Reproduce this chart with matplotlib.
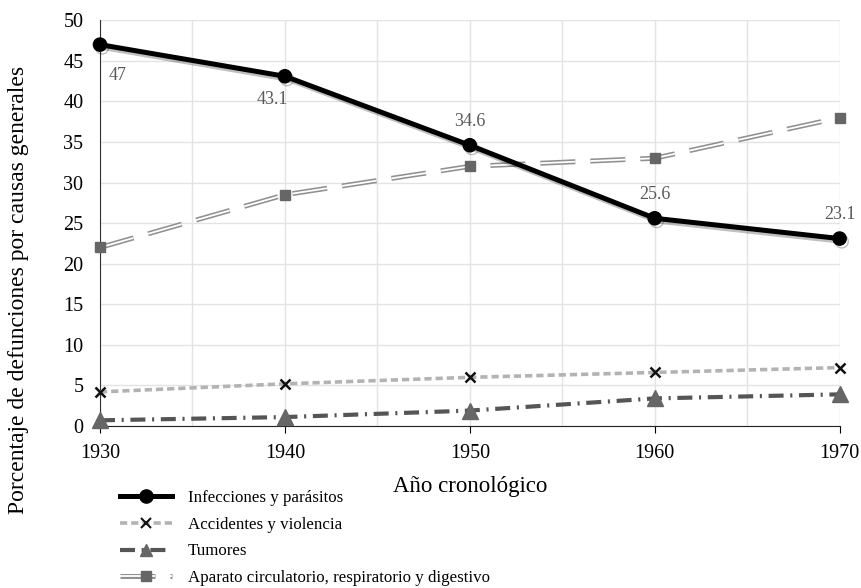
import matplotlib.pyplot as plt
import matplotlib.patheffects as pe
from matplotlib.lines import Line2D
from matplotlib.legend_handler import HandlerTuple

# Datos
years = [1930, 1940, 1950, 1960, 1970]
infecciones = [47, 43.1, 34.6, 25.6, 23.1]
accidentes = [4.2, 5.2, 6.0, 6.6, 7.2]
tumores = [0.7, 1.1, 1.9, 3.4, 3.9]
aparato = [22, 28.5, 32, 33, 38]

plt.rcParams['font.family'] = ['Liberation Serif', 'DejaVu Serif']

fig = plt.figure(figsize=(8.62, 5.88), dpi=100)
ax = fig.add_axes([0.116, 0.2755, 0.858, 0.69])

dbl_outer = dict(color='#909090', lw=3.6, ls=(0, (7, 3)))
dbl_inner = dict(color='white', lw=1.3, ls=(0, (7 * 3.6 / 1.3, 3 * 3.6 / 1.3)))
acc_style = dict(color='#b3b3b3', lw=2.6, ls=(0, (2, 1.1)))
tum_style = dict(color='#555555', lw=3.0, ls=(0, (3.6, 1.6, 0.5, 1.6)))

# Aparato circulatorio: doble linea discontinua
ax.plot(years, aparato, zorder=3, **dbl_outer)
ax.plot(years, aparato, zorder=3, **dbl_inner)
ax.plot(years, aparato, ls='none', marker='s', ms=7.5, color='#666666', zorder=4,
        clip_on=False)

# Accidentes y violencia
ax.plot(years, accidentes, zorder=3, **acc_style)
ax.plot(years, accidentes, ls='none', marker='x', ms=7, mew=1.8, color='#111111',
        zorder=4, clip_on=False)

# Tumores
ax.plot(years, tumores, zorder=3, **tum_style)
ax.plot(years, tumores, ls='none', marker='^', ms=11, color='#666666', zorder=4,
        clip_on=False)

# Infecciones y parasitos
ax.plot(years, infecciones, color='black', lw=3.6, marker='o', ms=9.5, zorder=5,
        clip_on=False,
        path_effects=[pe.SimpleLineShadow(offset=(1.5, -2), alpha=0.25), pe.Normal()])

offsets = [(13, -22), (-9, -17), (0, 17), (0, 17), (0, 17)]
for x, y, off in zip(years, infecciones, offsets):
    ax.annotate(f'{y:g}', (x, y), xytext=off, textcoords='offset points',
                ha='center', va='center', fontsize=13, color='#595959')

ax.set_xlim(1930, 1970)
ax.set_ylim(0, 50)
ax.set_yticks(range(0, 51, 5))
ax.set_xticks(years)
ax.set_xticks(range(1935, 1970, 10), minor=True)
ax.grid(True, which='both', color='#e3e3e3', lw=1)
ax.set_axisbelow(True)
ax.tick_params(axis='both', labelsize=14.5)
ax.tick_params(axis='y', length=0, pad=12)
ax.tick_params(axis='x', which='major', length=5, direction='out', pad=8)
ax.tick_params(axis='x', which='minor', length=0)
for s in ['top', 'right']:
    ax.spines[s].set_visible(False)
ax.spines['left'].set_color('#333333')
ax.spines['bottom'].set_color('#222222')

ax.set_xlabel('Año cronológico', fontsize=16.5, labelpad=9)
fig.text(0.022, 1 - 290 / 588, 'Porcentaje de defunciones por causas generales',
         rotation=90, ha='center', va='center', fontsize=17)

# Leyenda
h1 = Line2D([], [], color='black', lw=3.6, marker='o', ms=9.5)
h2 = Line2D([], [], marker='x', ms=7, mew=1.5, mec='#111111', **acc_style)
h3 = Line2D([], [], marker='^', ms=9, mfc='#666666', mec='#666666', **tum_style)
h4a = Line2D([], [], **dbl_outer)
h4b = Line2D([], [], **dbl_inner)
h4c = Line2D([], [], ls='none', marker='s', ms=7, color='#666666')
leg = fig.legend([h1, h2, h3, (h4a, h4b, h4c)],
                 ['Infecciones y parásitos', 'Accidentes y violencia', 'Tumores',
                  'Aparato circulatorio, respiratorio y digestivo'],
                 handler_map={tuple: HandlerTuple(ndivide=1)},
                 loc='upper left', bbox_to_anchor=(0.139, 0.167), frameon=False,
                 fontsize=12.2, handlelength=3.1, handletextpad=0.9,
                 labelspacing=0.64, borderpad=0, borderaxespad=0)

plt.savefig('out.png', dpi=100)
